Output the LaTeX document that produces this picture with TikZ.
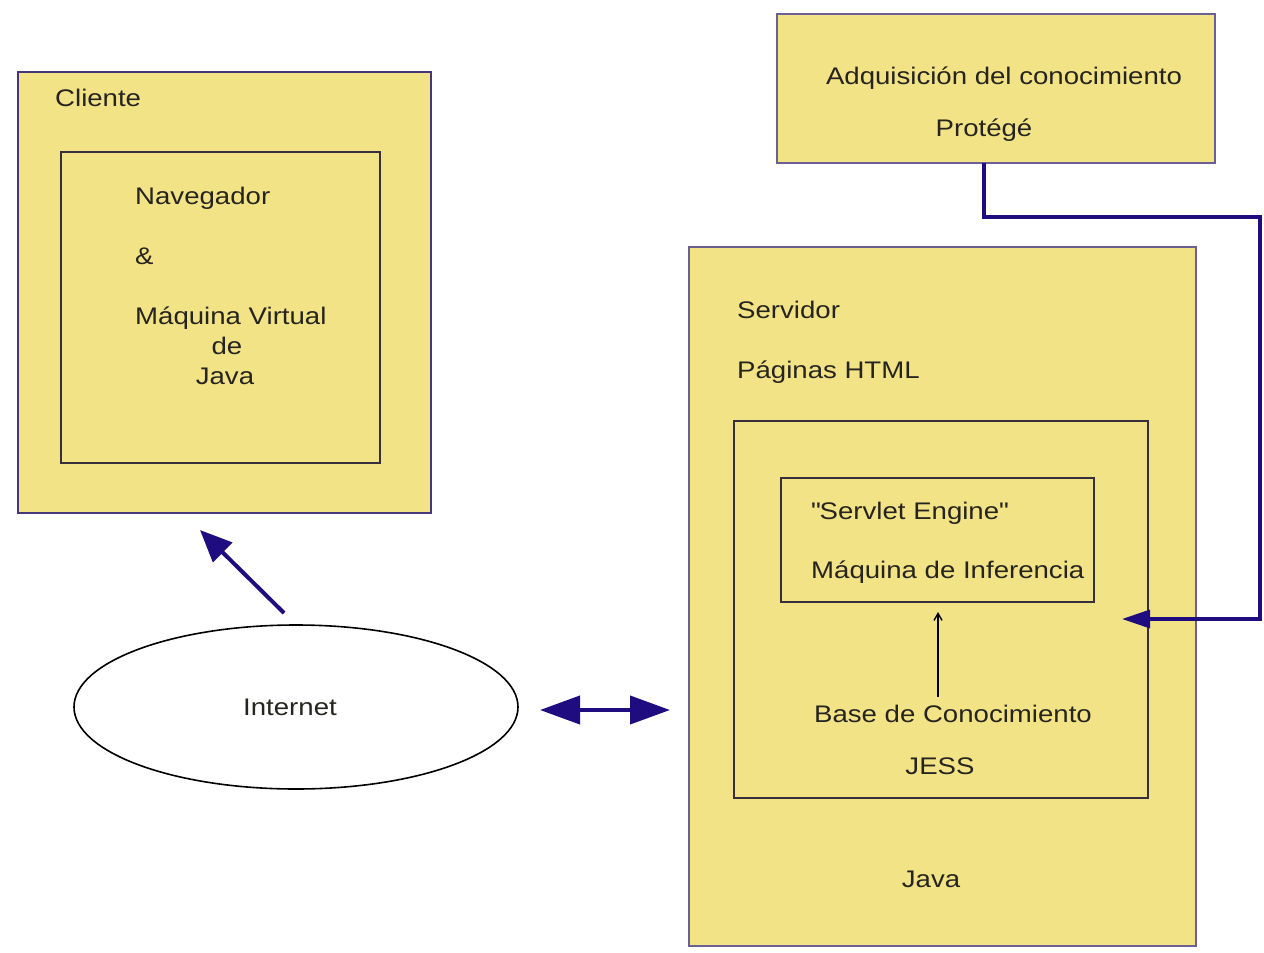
\documentclass[tikz,border=0pt]{standalone}
\usepackage{fontspec}
\setmainfont{Liberation Sans}[FakeStretch=1.15]
\usetikzlibrary{shapes.geometric,arrows.meta}
\definecolor{boxfill}{RGB}{243,227,135}
\definecolor{outerline}{RGB}{70,55,120}
\definecolor{innerline}{RGB}{55,48,60}
\definecolor{navy}{RGB}{30,12,128}
\definecolor{textcol}{RGB}{38,36,30}
\begin{document}
\begin{tikzpicture}[x=1pt,y=-1pt,
  font=\fontsize{24}{29}\selectfont,
  outerbox/.style={draw=outerline, line width=2pt, fill=boxfill, inner sep=0, rectangle},
  innerbox/.style={draw=innerline, line width=2pt, fill=boxfill, inner sep=0, rectangle},
  txt/.style={inner sep=0, anchor=base west, text=textcol},
  ctxt/.style={inner sep=0, anchor=base, text=textcol},
  bigarrow/.style={draw=navy, line width=4pt, -{Triangle[length=32pt,width=27pt]}},
  dblarrow/.style={draw=navy, line width=4pt, {Triangle[length=40pt,width=28pt]}-{Triangle[length=40pt,width=28pt]}},
  feedline/.style={draw=navy, line width=3.3pt, -{Triangle[length=28pt,width=18pt]}},
  thinarrow/.style={draw=black, line width=1.4pt, -{Straight Barb[length=7pt,width=8pt]}}
]
\useasboundingbox (0,0) rectangle (1264,953);

% Cliente
\node[outerbox, minimum width=413pt, minimum height=441pt] (cliente) at (224.5,292.5) {};
\node[innerbox, minimum width=319pt, minimum height=311pt] (nav) at (220.5,307.5) {};
\node[txt] (tcliente) at (55,106) {Cliente};
\node[txt] (tnav) at (135,204) {Navegador};
\node[txt] (tamp) at (135,264) {\&};
\node[txt] (tmaq) at (135,324) {Máquina Virtual};
\node[ctxt] (tde) at (227,354) {de};
\node[ctxt] (tjava1) at (225,384) {Java};

% Adquisicion
\node[outerbox, draw=outerline!80, minimum width=438pt, minimum height=149pt] (adq) at (996,88.5) {};
\node[ctxt] (tadq) at (1004,84) {Adquisición del conocimiento};
\node[ctxt] (tprot) at (984,136) {Protégé};

% Servidor
\node[outerbox, draw=outerline!80, minimum width=507pt, minimum height=699pt] (serv) at (942.5,596.5) {};
\node[txt] (tserv) at (737,318) {Servidor};
\node[txt] (tpag) at (737,378) {Páginas HTML};
\node[innerbox, minimum width=414pt, minimum height=377pt] (jessbox) at (941,609.5) {};
\node[innerbox, minimum width=313pt, minimum height=124pt] (servlet) at (937.5,540) {};
\node[txt] (tsvl) at (811,519) {\textquotedbl Servlet Engine\textquotedbl};
\node[txt] (tinf) at (811,578) {Máquina de Inferencia};
\node[ctxt] (tbase) at (953,722) {Base de Conocimiento};
\node[ctxt] (tjess) at (940,774) {JESS};
\node[ctxt] (tjava2) at (931,887) {Java};

% Internet
\node[ellipse, draw=black, line width=1.6pt, fill=white, minimum width=444pt, minimum height=164pt, inner sep=0, text=textcol] (inet) at (296,707) {\hspace*{-12pt}Internet};

% connectors
\coordinate (c1) at (284,613);
\coordinate (c2) at (200,530);
\draw[bigarrow] (c1) -- (c2);

\coordinate (d1) at (540,710);
\coordinate (d2) at (670,710);
\draw[dblarrow] (d1) -- (d2);

\coordinate (p1) at (984,163);
\coordinate (p2) at (1122,619);
\draw[feedline] (p1) -- (984,217) -- (1260,217) -- (1260,619) -- (p2);

\coordinate (a1) at (938,697);
\coordinate (a2) at (938,612);
\draw[thinarrow] (a1) -- (a2);
\end{tikzpicture}
\end{document}
